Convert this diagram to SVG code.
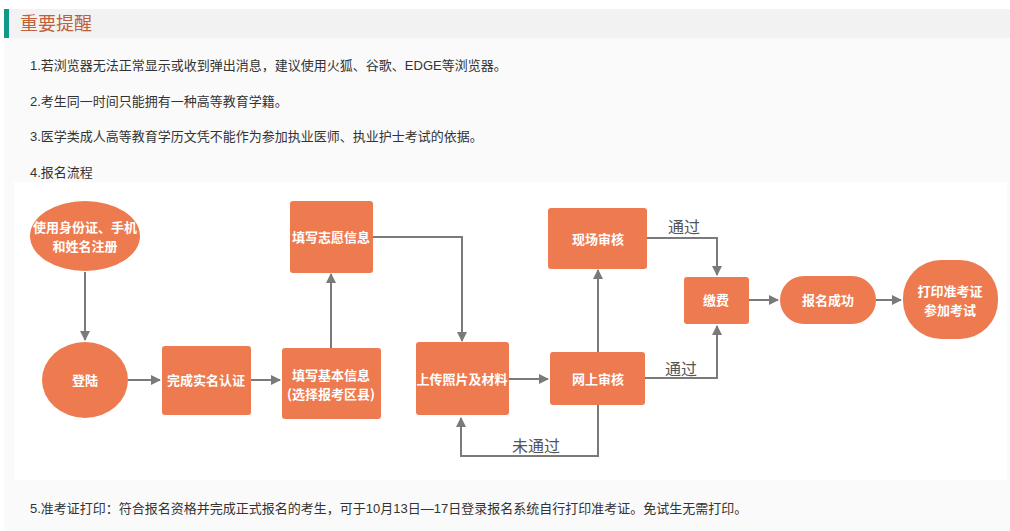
<svg xmlns="http://www.w3.org/2000/svg" width="1010" height="531" viewBox="0 0 1010 531">
<style>
.t{font-family:"Liberation Sans","Noto Sans CJK SC",sans-serif;font-size:13px;fill:#333}
.n{fill:#ee7a50}
.nt{font-family:"Noto Sans CJK SC",sans-serif;font-size:13px;font-weight:bold;fill:#fff;text-anchor:middle}
.c{fill:none;stroke:#7a7a7a;stroke-width:2}
.l{font-family:"Noto Sans CJK SC",sans-serif;font-size:16px;fill:#555}
</style>
<defs><marker id="a" viewBox="0 0 10 10" refX="9" refY="5" markerWidth="5" markerHeight="5" orient="auto"><path d="M0,0L10,5L0,10z" fill="#7a7a7a"/></marker></defs>
<rect width="1010" height="531" fill="#fff"/>
<rect x="4" y="9" width="1006" height="29" fill="#f2f2f2"/>
<rect x="4" y="9" width="5" height="29" fill="#119988"/>
<text x="20" y="30" font-family="Noto Sans CJK SC,sans-serif" font-size="18" fill="#c0603a">重要提醒</text>
<rect x="4" y="38" width="1006" height="493" fill="#fafafa"/>
<text class="t" x="30" y="70">1.若浏览器无法正常显示或收到弹出消息，建议使用火狐、谷歌、EDGE等浏览器。</text>
<text class="t" x="30" y="106">2.考生同一时间只能拥有一种高等教育学籍。</text>
<text class="t" x="30" y="141">3.医学类成人高等教育学历文凭不能作为参加执业医师、执业护士考试的依据。</text>
<text class="t" x="30" y="177">4.报名流程</text>
<rect x="14" y="182" width="993" height="298" fill="#fff"/>
<text class="t" x="30" y="513">5.准考证打印：符合报名资格并完成正式报名的考生，可于10月13日—17日登录报名系统自行打印准考证。免试生无需打印。</text>
<g id="connectors">
<path class="c" marker-end="url(#a)" d="M85,272V340"/>
<path class="c" marker-end="url(#a)" d="M128,380H160"/>
<path class="c" marker-end="url(#a)" d="M251,380H280"/>
<path class="c" marker-end="url(#a)" d="M331,348V274"/>
<path class="c" marker-end="url(#a)" d="M373,237H462V341"/>
<path class="c" marker-end="url(#a)" d="M509,379H548"/>
<path class="c" marker-end="url(#a)" d="M598,352V270"/>
<path class="c" marker-end="url(#a)" d="M647,238H717V275"/>
<path class="c" marker-end="url(#a)" d="M645,378H717V326"/>
<path class="c" marker-end="url(#a)" d="M598,405V456H461V418"/>
<path class="c" marker-end="url(#a)" d="M749,300H778"/>
<path class="c" marker-end="url(#a)" d="M876,300H901"/>
<text class="l" x="668" y="233">通过</text>
<text class="l" x="665" y="375">通过</text>
<text class="l" x="512" y="452">未通过</text>
</g>
<g id="reg"><ellipse class="n" cx="85" cy="236" rx="55" ry="35"/><text class="nt" x="85" y="232">使用身份证、手机</text><text class="nt" x="85" y="251">和姓名注册</text></g>
<g id="login"><ellipse class="n" cx="85" cy="380" rx="43" ry="38"/><text class="nt" x="85" y="385">登陆</text></g>
<g id="auth"><rect class="n" x="162" y="346" width="89" height="69" rx="3"/><text class="nt" x="206" y="385">完成实名认证</text></g>
<g id="basic"><rect class="n" x="282" y="348" width="99" height="71" rx="3"/><text class="nt" x="331" y="380">填写基本信息</text><text class="nt" x="331" y="399">(选择报考区县)</text></g>
<g id="wish"><rect class="n" x="290" y="201" width="83" height="72" rx="3"/><text class="nt" x="331" y="242">填写志愿信息</text></g>
<g id="upload"><rect class="n" x="416" y="342" width="93" height="73" rx="3"/><text class="nt" x="462" y="384">上传照片及材料</text></g>
<g id="site"><rect class="n" x="548" y="208" width="99" height="61" rx="3"/><text class="nt" x="598" y="244">现场审核</text></g>
<g id="online"><rect class="n" x="550" y="352" width="95" height="53" rx="3"/><text class="nt" x="598" y="384">网上审核</text></g>
<g id="pay"><rect class="n" x="684" y="277" width="65" height="47" rx="3"/><text class="nt" x="716" y="305">缴费</text></g>
<g id="success"><rect class="n" x="780" y="276" width="96" height="48" rx="24"/><text class="nt" x="828" y="305">报名成功</text></g>
<g id="print"><rect class="n" x="903" y="260" width="95" height="79" rx="38"/><text class="nt" x="950" y="296">打印准考证</text><text class="nt" x="950" y="315">参加考试</text></g>
</svg>
